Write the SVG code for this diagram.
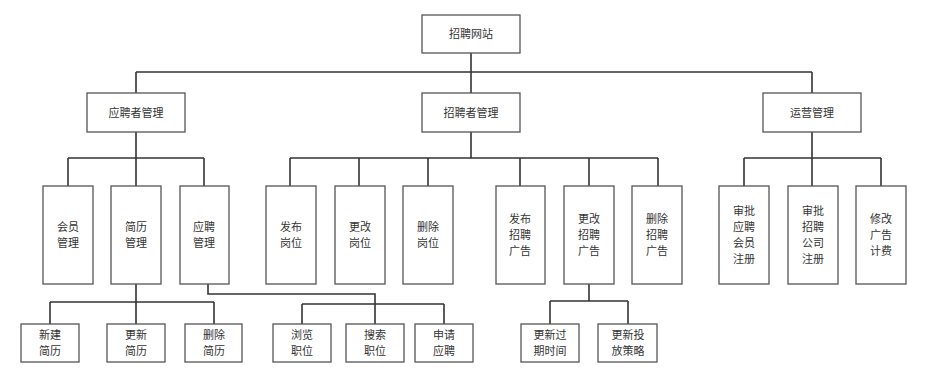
<svg xmlns="http://www.w3.org/2000/svg" width="932" height="386" viewBox="0 0 932 386">
<style>
rect{fill:#fff;stroke:#555;stroke-width:1.3}
text{font-family:"Noto Sans CJK SC","Noto Sans",sans-serif;font-size:11px;fill:#333;text-anchor:middle}
.c path{fill:none;stroke:#333;stroke-width:1.6}
</style>
<rect x="0" y="0" width="932" height="386" style="stroke:none"/>
<g class="c" id="connectors">
<path d="M471 53V93M136 72H812M136 72V93M812 72V93"/>
<path d="M136 132V186M68 158H204M68 158V186M204 158V186"/>
<path d="M471 132V158M290 158H658M290 158V186M359 158V186M428 158V186M520 158V186M589 158V186M658 158V186"/>
<path d="M812 132V186M744 158H881M744 158V186M881 158V186"/>
<path d="M136 284V324M50 302H214M50 302V324M214 302V324"/>
<path d="M208 284V294H375V324M302 304H444M302 304V324M444 304V324"/>
<path d="M589 284V301M550 301H628M550 301V324M628 301V324"/>
</g>
<g id="n0"><rect x="422" y="15" width="98" height="38"/><text x="471" y="38">招聘网站</text></g>
<g id="n1"><rect x="87" y="93" width="98" height="39"/><text x="136" y="116.5">应聘者管理</text></g>
<g id="n2"><rect x="422" y="93" width="98" height="39"/><text x="471" y="116.5">招聘者管理</text></g>
<g id="n3"><rect x="763" y="93" width="98" height="39"/><text x="812" y="116.5">运营管理</text></g>
<g id="n4"><rect x="43" y="186" width="50" height="98"/><text x="68" y="231">会员</text><text x="68" y="247">管理</text></g>
<g id="n5"><rect x="111" y="186" width="50" height="98"/><text x="136" y="231">简历</text><text x="136" y="247">管理</text></g>
<g id="n6"><rect x="180" y="186" width="49" height="98"/><text x="204" y="231">应聘</text><text x="204" y="247">管理</text></g>
<g id="n7"><rect x="266" y="186" width="50" height="98"/><text x="291" y="231">发布</text><text x="291" y="247">岗位</text></g>
<g id="n8"><rect x="335" y="186" width="50" height="98"/><text x="360" y="231">更改</text><text x="360" y="247">岗位</text></g>
<g id="n9"><rect x="403" y="186" width="50" height="98"/><text x="428" y="231">删除</text><text x="428" y="247">岗位</text></g>
<g id="n10"><rect x="496" y="186" width="49" height="98"/><text x="520" y="223">发布</text><text x="520" y="239">招聘</text><text x="520" y="255">广告</text></g>
<g id="n11"><rect x="564" y="186" width="50" height="98"/><text x="589" y="223">更改</text><text x="589" y="239">招聘</text><text x="589" y="255">广告</text></g>
<g id="n12"><rect x="632" y="186" width="50" height="98"/><text x="657" y="223">删除</text><text x="657" y="239">招聘</text><text x="657" y="255">广告</text></g>
<g id="n13"><rect x="719" y="186" width="50" height="98"/><text x="744" y="215">审批</text><text x="744" y="231">应聘</text><text x="744" y="247">会员</text><text x="744" y="263">注册</text></g>
<g id="n14"><rect x="788" y="186" width="50" height="98"/><text x="813" y="215">审批</text><text x="813" y="231">招聘</text><text x="813" y="247">公司</text><text x="813" y="263">注册</text></g>
<g id="n15"><rect x="856" y="186" width="50" height="98"/><text x="881" y="223">修改</text><text x="881" y="239">广告</text><text x="881" y="255">计费</text></g>
<g id="n16"><rect x="21" y="324" width="58" height="38"/><text x="50" y="339">新建</text><text x="50" y="355">简历</text></g>
<g id="n17"><rect x="107" y="324" width="58" height="38"/><text x="136" y="339">更新</text><text x="136" y="355">简历</text></g>
<g id="n18"><rect x="185" y="324" width="57" height="38"/><text x="214" y="339">删除</text><text x="214" y="355">简历</text></g>
<g id="n19"><rect x="273" y="324" width="58" height="38"/><text x="302" y="339">浏览</text><text x="302" y="355">职位</text></g>
<g id="n20"><rect x="346" y="324" width="58" height="38"/><text x="375" y="339">搜索</text><text x="375" y="355">职位</text></g>
<g id="n21"><rect x="415" y="324" width="58" height="38"/><text x="444" y="339">申请</text><text x="444" y="355">应聘</text></g>
<g id="n22"><rect x="521" y="324" width="58" height="38"/><text x="550" y="339">更新过</text><text x="550" y="355">期时间</text></g>
<g id="n23"><rect x="598" y="324" width="59" height="38"/><text x="628" y="339">更新投</text><text x="628" y="355">放策略</text></g>
</svg>
